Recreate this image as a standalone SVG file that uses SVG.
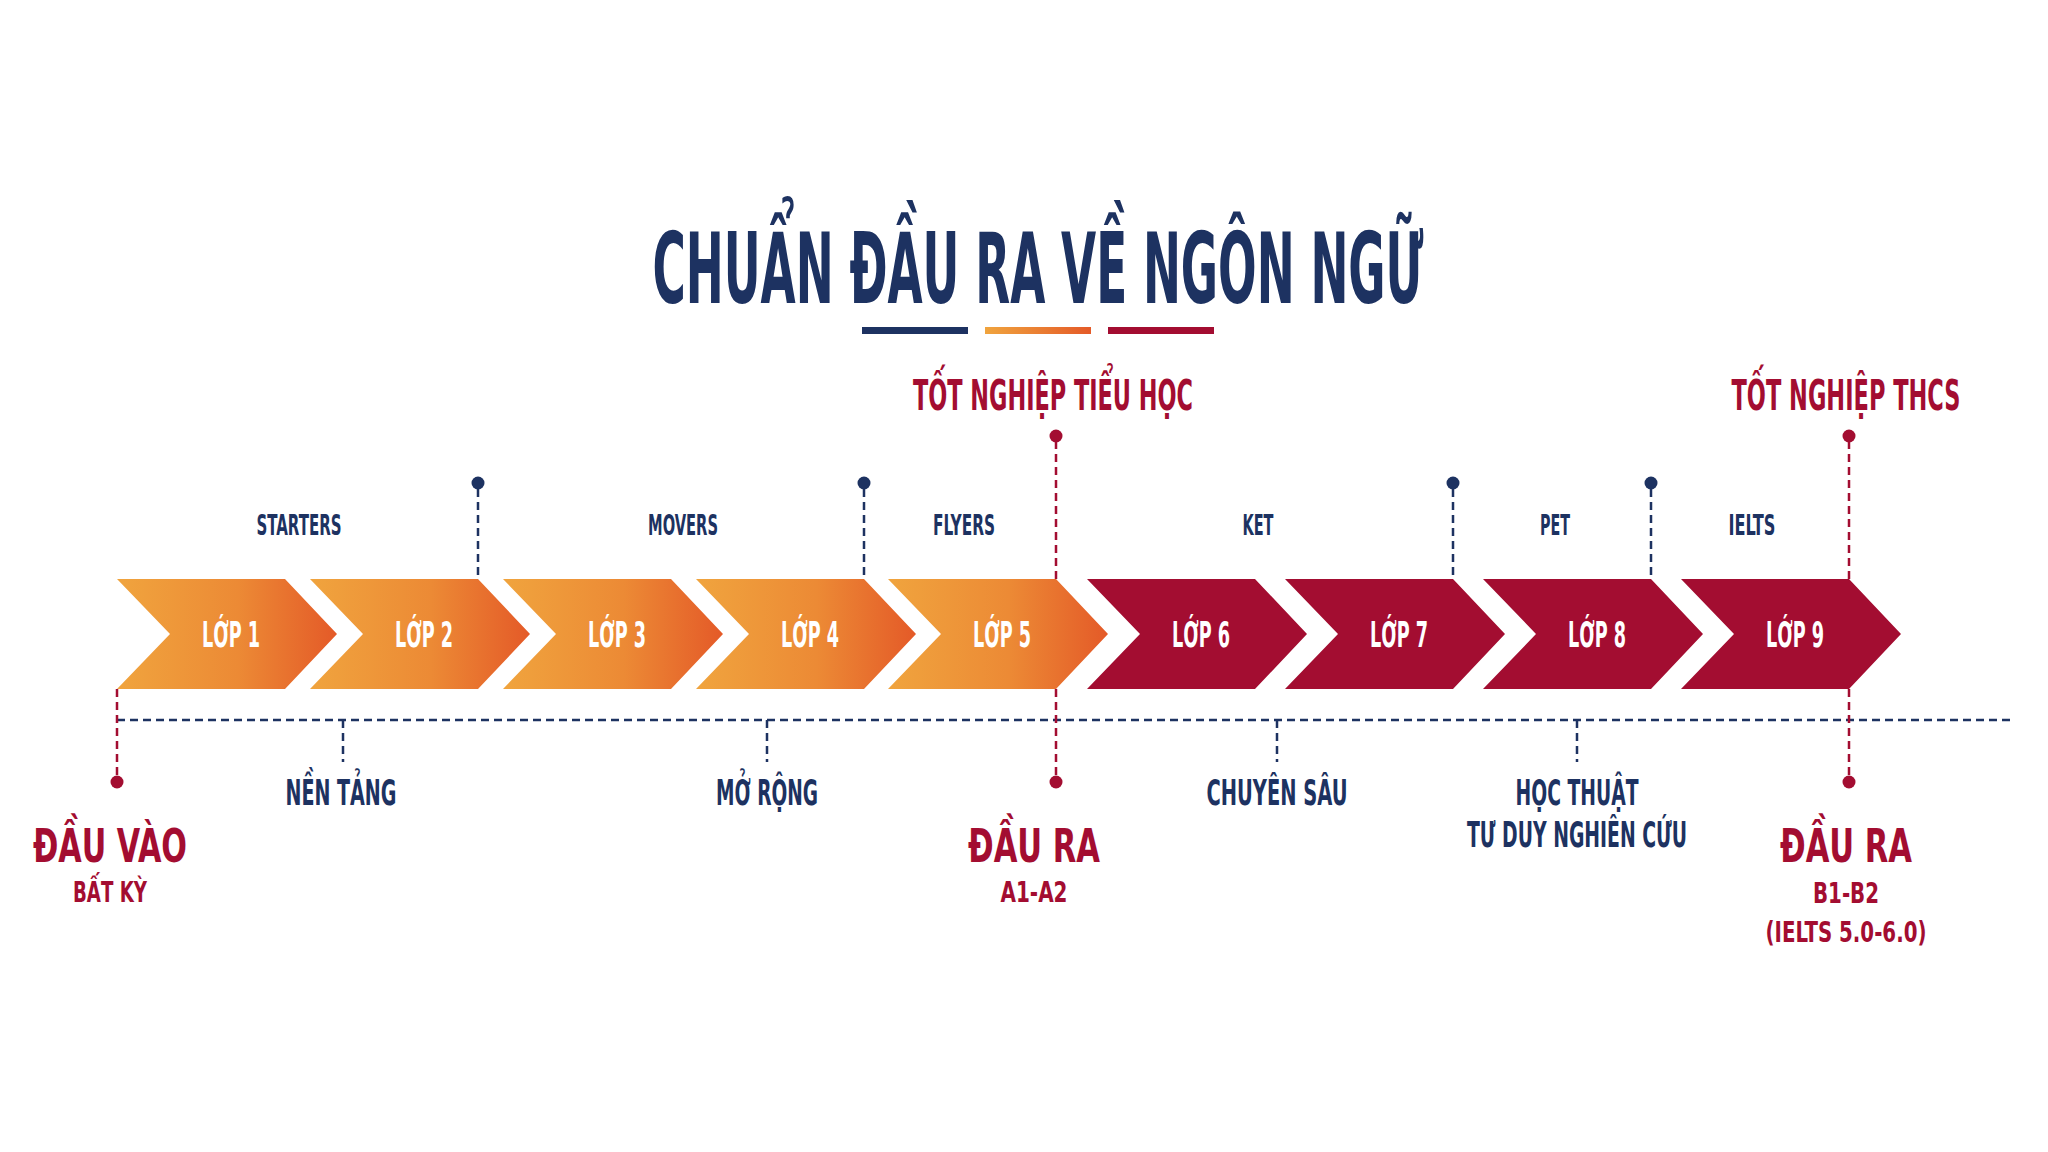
<svg xmlns="http://www.w3.org/2000/svg" width="2048" height="1152" viewBox="0 0 2048 1152">
<defs>
<linearGradient id="og" x1="0" y1="0" x2="1" y2="0">
<stop offset="0" stop-color="#F0A43E"/>
<stop offset="0.55" stop-color="#EC8A35"/>
<stop offset="1" stop-color="#E45A28"/>
</linearGradient>
<linearGradient id="ogbar" x1="0" y1="0" x2="1" y2="0">
<stop offset="0" stop-color="#F0A43E"/>
<stop offset="1" stop-color="#E45A28"/>
</linearGradient>
</defs>
<style>
text{font-family:"Liberation Sans Narrow","DejaVu Sans Condensed","Liberation Sans",sans-serif;font-weight:bold;text-anchor:middle}
.navy{fill:#1D3261}
.red{fill:#A30D31}
.w{fill:#FFFFFF;font-size:36px}
.top{font-size:28px}
.mile{font-size:42px}
.bot{font-size:35px}
.big{font-size:47px}
.sub{font-size:29px}
.dn{stroke:#1D3261;stroke-width:2.5;stroke-dasharray:8 5;fill:none}
.dr{stroke:#A30D31;stroke-width:2.5;stroke-dasharray:8 5;fill:none}
.o{fill:url(#og)}
.r{fill:#A30D31}
</style>
<rect width="2048" height="1152" fill="#FFFFFF"/>

<g id="title">
<text class="navy" x="1038" y="303" font-size="98" textLength="771" lengthAdjust="spacingAndGlyphs">CHUẨN ĐẦU RA VỀ NGÔN NGỮ</text>
<rect x="862" y="327" width="106" height="7" fill="#1D3261"/>
<rect x="985" y="327" width="106" height="7" fill="url(#ogbar)"/>
<rect x="1108" y="327" width="106" height="7" fill="#A30D31"/>
</g>

<g id="connectors">
<line class="dn" x1="117" y1="720" x2="2015" y2="720"/>
<line class="dn" x1="478" y1="489" x2="478" y2="579"/>
<line class="dn" x1="864" y1="489" x2="864" y2="579"/>
<line class="dn" x1="1453" y1="489" x2="1453" y2="579"/>
<line class="dn" x1="1651" y1="489" x2="1651" y2="579"/>
<line class="dr" x1="1056" y1="441" x2="1056" y2="579"/>
<line class="dr" x1="1849" y1="441" x2="1849" y2="579"/>
<line class="dr" x1="117" y1="689" x2="117" y2="778"/>
<line class="dr" x1="1056" y1="689" x2="1056" y2="778"/>
<line class="dr" x1="1849" y1="689" x2="1849" y2="778"/>
<line class="dn" x1="343" y1="720" x2="343" y2="762"/>
<line class="dn" x1="767" y1="720" x2="767" y2="762"/>
<line class="dn" x1="1277" y1="720" x2="1277" y2="762"/>
<line class="dn" x1="1577" y1="720" x2="1577" y2="762"/>
<circle cx="478" cy="483" r="6.5" fill="#1D3261"/>
<circle cx="864" cy="483" r="6.5" fill="#1D3261"/>
<circle cx="1453" cy="483" r="6.5" fill="#1D3261"/>
<circle cx="1651" cy="483" r="6.5" fill="#1D3261"/>
<circle cx="1056" cy="436" r="6.5" fill="#A30D31"/>
<circle cx="1849" cy="436" r="6.5" fill="#A30D31"/>
<circle cx="117" cy="782" r="6.5" fill="#A30D31"/>
<circle cx="1056" cy="782" r="6.5" fill="#A30D31"/>
<circle cx="1849" cy="782" r="6.5" fill="#A30D31"/>
</g>

<g id="lop1"><polygon class="o" transform="translate(117,0)" points="0,579 168,579 220,634 168,689 0,689 53,634"/><text class="w" x="231" y="647" textLength="58" lengthAdjust="spacingAndGlyphs">LỚP 1</text></g>
<g id="lop2"><polygon class="o" transform="translate(310,0)" points="0,579 168,579 220,634 168,689 0,689 53,634"/><text class="w" x="424" y="647" textLength="58" lengthAdjust="spacingAndGlyphs">LỚP 2</text></g>
<g id="lop3"><polygon class="o" transform="translate(503,0)" points="0,579 168,579 220,634 168,689 0,689 53,634"/><text class="w" x="617" y="647" textLength="58" lengthAdjust="spacingAndGlyphs">LỚP 3</text></g>
<g id="lop4"><polygon class="o" transform="translate(696,0)" points="0,579 168,579 220,634 168,689 0,689 53,634"/><text class="w" x="810" y="647" textLength="58" lengthAdjust="spacingAndGlyphs">LỚP 4</text></g>
<g id="lop5"><polygon class="o" transform="translate(888,0)" points="0,579 168,579 220,634 168,689 0,689 53,634"/><text class="w" x="1002" y="647" textLength="58" lengthAdjust="spacingAndGlyphs">LỚP 5</text></g>
<g id="lop6"><polygon class="r" transform="translate(1087,0)" points="0,579 168,579 220,634 168,689 0,689 53,634"/><text class="w" x="1201" y="647" textLength="58" lengthAdjust="spacingAndGlyphs">LỚP 6</text></g>
<g id="lop7"><polygon class="r" transform="translate(1285,0)" points="0,579 168,579 220,634 168,689 0,689 53,634"/><text class="w" x="1399" y="647" textLength="58" lengthAdjust="spacingAndGlyphs">LỚP 7</text></g>
<g id="lop8"><polygon class="r" transform="translate(1483,0)" points="0,579 168,579 220,634 168,689 0,689 53,634"/><text class="w" x="1597" y="647" textLength="58" lengthAdjust="spacingAndGlyphs">LỚP 8</text></g>
<g id="lop9"><polygon class="r" transform="translate(1681,0)" points="0,579 168,579 220,634 168,689 0,689 53,634"/><text class="w" x="1795" y="647" textLength="58" lengthAdjust="spacingAndGlyphs">LỚP 9</text></g>

<g id="levels">
<text class="navy top" x="299" y="535" textLength="85" lengthAdjust="spacingAndGlyphs">STARTERS</text>
<text class="navy top" x="683" y="535" textLength="70" lengthAdjust="spacingAndGlyphs">MOVERS</text>
<text class="navy top" x="964" y="535" textLength="62" lengthAdjust="spacingAndGlyphs">FLYERS</text>
<text class="navy top" x="1258" y="535" textLength="31" lengthAdjust="spacingAndGlyphs">KET</text>
<text class="navy top" x="1555" y="535" textLength="30" lengthAdjust="spacingAndGlyphs">PET</text>
<text class="navy top" x="1752" y="535" textLength="47" lengthAdjust="spacingAndGlyphs">IELTS</text>
</g>

<g id="milestones">
<text class="red mile" x="1053" y="410" textLength="280" lengthAdjust="spacingAndGlyphs">TỐT NGHIỆP TIỂU HỌC</text>
<text class="red mile" x="1846" y="410" textLength="229" lengthAdjust="spacingAndGlyphs">TỐT NGHIỆP THCS</text>
</g>

<g id="phases">
<text class="navy bot" x="341" y="805" textLength="111" lengthAdjust="spacingAndGlyphs">NỀN TẢNG</text>
<text class="navy bot" x="767" y="805" textLength="102" lengthAdjust="spacingAndGlyphs">MỞ RỘNG</text>
<text class="navy bot" x="1277" y="805" textLength="141" lengthAdjust="spacingAndGlyphs">CHUYÊN SÂU</text>
<text class="navy bot" x="1577" y="805" textLength="123" lengthAdjust="spacingAndGlyphs">HỌC THUẬT</text>
<text class="navy bot" x="1577" y="847" font-size="33" textLength="220" lengthAdjust="spacingAndGlyphs">TƯ DUY NGHIÊN CỨU</text>
</g>

<g id="dau-vao">
<text class="red big" x="110" y="862" textLength="154" lengthAdjust="spacingAndGlyphs">ĐẦU VÀO</text>
<text class="red sub" x="110" y="902" textLength="74" lengthAdjust="spacingAndGlyphs">BẤT KỲ</text>
</g>
<g id="dau-ra-1">
<text class="red big" x="1034" y="862" textLength="132" lengthAdjust="spacingAndGlyphs">ĐẦU RA</text>
<text class="red sub" x="1034" y="902" textLength="67" lengthAdjust="spacingAndGlyphs">A1-A2</text>
</g>
<g id="dau-ra-2">
<text class="red big" x="1846" y="862" textLength="132" lengthAdjust="spacingAndGlyphs">ĐẦU RA</text>
<text class="red sub" x="1846" y="903" textLength="66" lengthAdjust="spacingAndGlyphs">B1-B2</text>
<text class="red sub" x="1846" y="942" textLength="161" lengthAdjust="spacingAndGlyphs">(IELTS 5.0-6.0)</text>
</g>
</svg>
